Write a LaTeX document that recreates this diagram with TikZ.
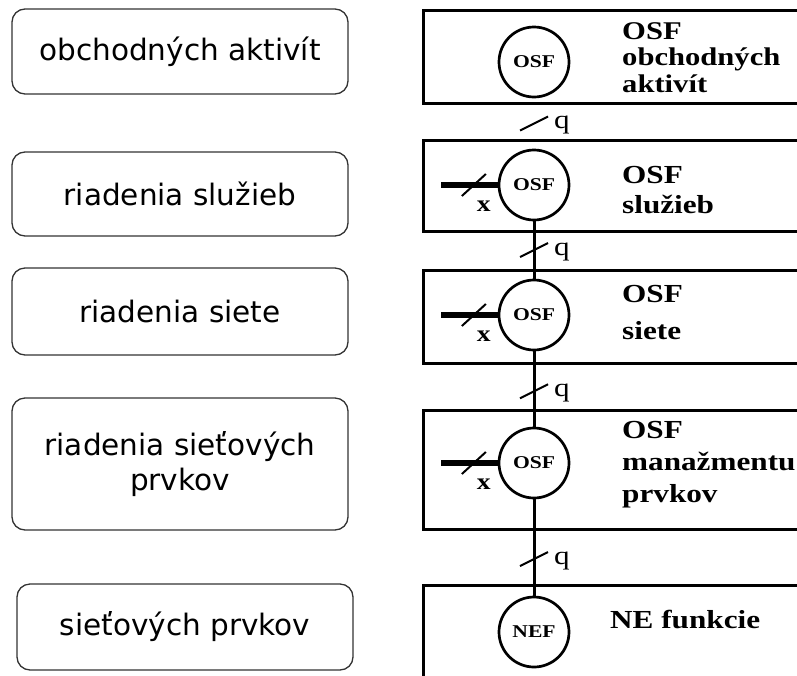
\documentclass[tikz,border=0pt]{standalone}
\usepackage{fontspec}
\setmainfont{Liberation Serif}[FakeStretch=1.2]
\newfontfamily\levelfont{DejaVu Sans}
\usetikzlibrary{calc}

\tikzset{
	level/.style={draw=black!80, line width=1.3pt, rounded corners=13pt, minimum width=336pt, align=center, inner sep=0pt, font=\levelfont\fontsize{29.5}{35}\selectfont},
	layer/.style={line width=3pt},
	osf/.style={draw, circle, line width=2.7pt, minimum size=70pt, inner sep=0pt, font=\bfseries\fontsize{18}{18}\selectfont},
	link/.style={line width=3pt},
	stub/.style={line width=6pt},
	tick/.style={line width=2pt},
	title/.style={anchor=north west, align=left, inner sep=0pt},
}

\begin{document}
\begin{tikzpicture}[x=1pt, y=-1pt]
	\useasboundingbox (0,0) rectangle (797,675);
	\clip (0,0) rectangle (797,675);
	% levels on the left
	\foreach \n/\x/\y/\h/\txt in {1/180/51.5/85/obchodných aktivít, 2/180/194/84/riadenia služieb, 3/180/311.5/87/riadenia siete, 4/180/464/132/{riadenia sieťových\\prvkov}, 5/185/627/86/sieťových prvkov}
		\node[level, minimum height=\h pt] (l\n) at (\x,\y) {\txt};
	% layers on the right
	\foreach \top/\bot in {10/103, 140/231, 270/363, 410/529, 585/720}
		\draw[layer] (423,\top) rectangle (810,\bot);
	\node[osf] (c1) at (534,62) {OSF};
	\node[osf] (c2) at (534,185) {OSF};
	\node[osf] (c3) at (534,315) {OSF};
	\node[osf] (c4) at (534,463) {OSF};
	\node[osf] (c5) at (534,632) {NEF};
	\node[title, font=\bfseries\fontsize{25.5}{26.5}\selectfont] (t1) at (622,22) {OSF\\obchodných\\aktivít};
	\node[title, font=\bfseries\fontsize{26}{30}\selectfont] (t2) at (622,166) {OSF\\služieb};
	\node[title, font=\bfseries\fontsize{26}{37}\selectfont] (t3) at (622,285) {OSF\\siete};
	\node[title, font=\bfseries\fontsize{26}{32}\selectfont] (t4) at (622,421) {OSF\\manažmentu\\prvkov};
	\node[title, font=\bfseries\fontsize{26}{30}\selectfont] (t5) at (610,610) {NE funkcie};
	% q interfaces
	\foreach \a/\b in {2/3, 3/4, 4/5}
		\draw[link] (c\a) -- (c\b);
	\coordinate (q1) at ($(c1.south)!0.5!(c2.north)$);
	\coordinate (q2) at ($(c2.south)!0.5!(c3.north)$);
	\coordinate (q3) at ($(c3.south)!0.53!(c4.north)$);
	\coordinate (q4) at ($(c4.south)!0.62!(c5.north)$);
	\foreach \n in {1,...,4} {
		\draw[tick] (q\n) +(-14,7) -- +(14,-7);
		\node[anchor=base west, inner sep=0pt, font=\fontsize{26}{26}\selectfont] (ql\n) at ($(q\n)+(20,5)$) {q};
	}
	% x interfaces
	\foreach \n in {2,3,4} {
		\coordinate (s\n) at (c\n.west -| 441,0);
		\draw[stub] (s\n) -- (c\n.west);
		\draw[tick] ($(s\n)!0.58!(c\n.west)$) +(-12,11) -- +(12,-11);
		\node[font=\bfseries\fontsize{23}{23}\selectfont] (xl\n) at ($(s\n)!0.58!(c\n.west)+(10,21)$) {x};
	}
\end{tikzpicture}
\end{document}
